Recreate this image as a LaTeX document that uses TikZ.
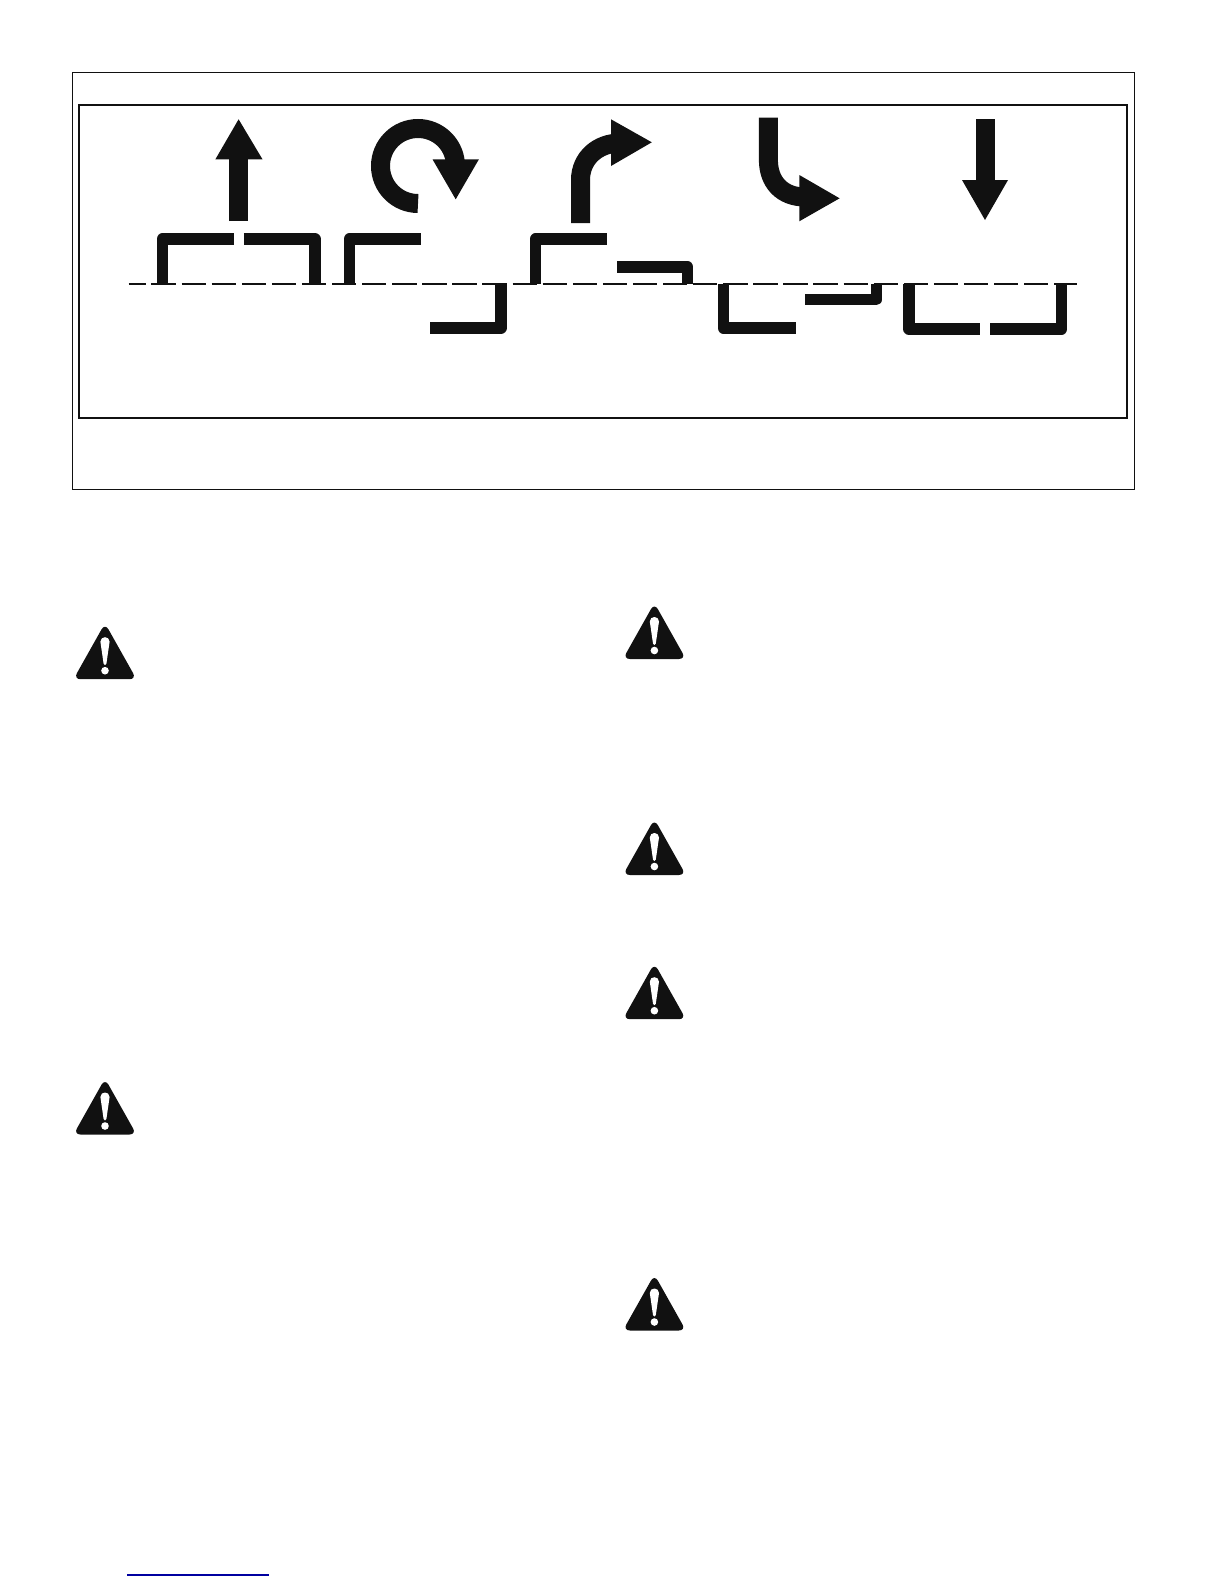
\documentclass[tikz,border=0pt]{standalone}
\usepackage{xcolor}
\usetikzlibrary{calc}

\definecolor{markblack}{HTML}{111111}
\definecolor{rulelink}{HTML}{0000A0}

\tikzset{
  pagegrid/.style={x=0.5bp,y=-0.5bp},
  outerframe/.style={draw=markblack,line width=0.5bp},
  innerframe/.style={draw=markblack,line width=1bp},
  foldline/.style={draw=markblack,line width=0.9bp,dash pattern=on 12.15bp off 2.895bp,dash phase=3.6bp},
  sidemark/.style={draw=markblack,line width=5.75bp,line join=round,line cap=butt},
  shaftline/.style={draw=markblack,line width=9.5bp,line cap=butt},
  headfill/.style={fill=markblack},
  warnsign/.pic={
    \fill[markblack,rounded corners=3.5bp] (0,-3.5) -- (-31.5,52.5) -- (31.5,52.5) -- cycle;
    \fill[white] (-4.6,15) .. controls (-4.6,9) and (4.6,9) .. (4.6,15) -- (1.4,37) .. controls (1,39) and (-1,39) .. (-1.4,37) -- cycle;
    \fill[white] (0,44) circle[radius=3.8];
  }
}

\begin{document}
\begin{tikzpicture}[pagegrid]
\useasboundingbox (0,0) rectangle (1224,1584);

% -------- Frames --------
\draw[outerframe] (72.5,72.7) rectangle (1134.6,489.8);
\draw[innerframe] (78.6,105) rectangle (1127.1,418);

% -------- Up arrow --------
\draw[shaftline] (238.4,221) -- (238.4,155);
\fill[headfill] (238.6,119.3) -- (262.5,159.3) -- (215.4,159.3) -- cycle;

% -------- Turn around arrow --------
\draw[shaftline] (418,203.5) arc[start angle=90,end angle=355,radius=37.5];
\fill[headfill] (432.5,159.3) -- (478.9,159.3) -- (455.7,199.3) -- cycle;

% -------- Right turn arrow --------
\draw[shaftline] (580.5,223) -- (580.5,180) .. controls (580.5,158) and (598,143) .. (620,143);
\fill[headfill] (611,119.3) -- (651.8,142.3) -- (611,166) -- cycle;

% -------- Left turn arrow --------
\draw[shaftline] (768.4,117.7) -- (768.4,160) .. controls (768.4,182) and (782,197) .. (805,197);
\fill[headfill] (799.3,175) -- (839.6,198.3) -- (799.3,221.3) -- cycle;

% -------- Down arrow --------
\draw[shaftline] (985,119) -- (985,185);
\fill[headfill] (962,180) -- (1008,180) -- (985,220) -- cycle;

% -------- Side marks --------
\draw[sidemark] (162.5,283.7) -- (162.5,239) -- (233.9,239);
\draw[sidemark] (243.9,239) -- (314.9,239) -- (314.9,283.7);
\draw[sidemark] (349.5,283.7) -- (349.5,239) -- (421.1,239);
\draw[sidemark] (500.9,283.7) -- (500.9,328) -- (430,328);
\draw[sidemark] (535.7,283.7) -- (535.7,239) -- (607.1,239);
\draw[sidemark] (617.1,267) -- (687.5,267) -- (687.5,283.7);
\draw[sidemark] (723.4,283.7) -- (723.4,328) -- (796,328);
\draw[sidemark] (805,299.5) -- (876.3,299.5) -- (876.3,283.7);
\draw[sidemark] (909,283.7) -- (909,329) -- (980,329);
\draw[sidemark] (990,329) -- (1061.6,329) -- (1061.6,283.7);

% -------- Fold line --------
\draw[foldline] (128.6,283.7) -- (1077,283.7);

% -------- Warning signs --------
\foreach \signx/\signy in {105/626.7,105/1082,654.4/606.5,654.4/822.5,654.4/966.7,654.4/1278}
  \pic at (\signx,\signy) {warnsign};

% -------- Bottom rule --------
\draw[rulelink,line width=0.6bp] (127.3,1575) -- (269.3,1575);

\end{tikzpicture}
\end{document}
